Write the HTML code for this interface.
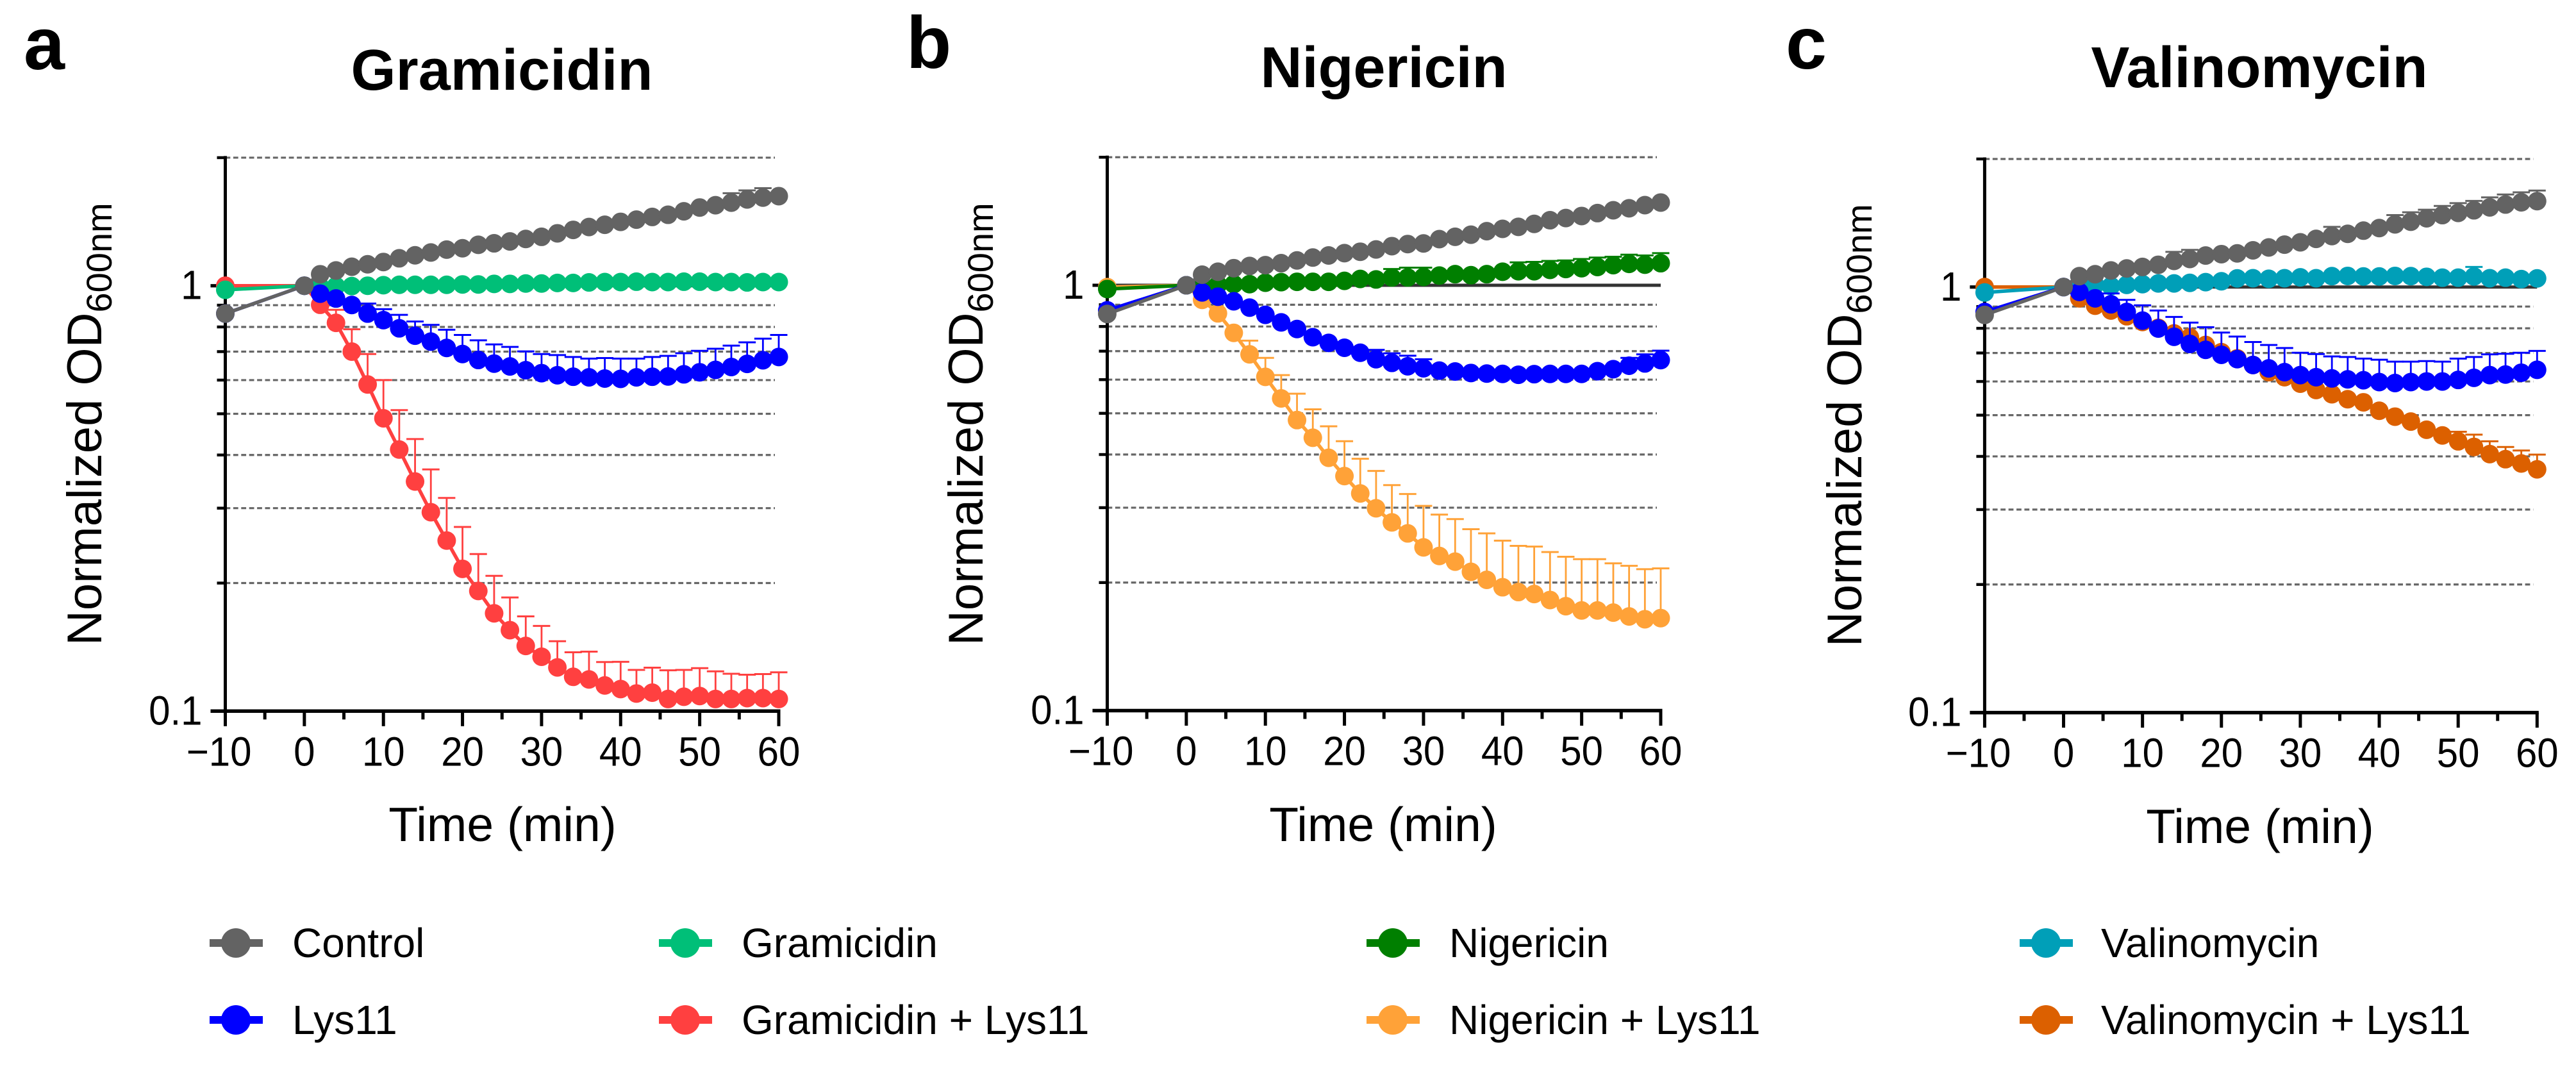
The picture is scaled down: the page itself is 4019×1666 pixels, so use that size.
<!DOCTYPE html>
<html lang="en">
<head>
<meta charset="utf-8">
<title>Normalized OD600nm time courses</title>
<style>
html,body{margin:0;padding:0;background:#fff}
svg{display:block}
text{font-family:"Liberation Sans",Arial,sans-serif;fill:#000}
</style>
</head>
<body>
<svg id="figure" xmlns="http://www.w3.org/2000/svg" width="4019" height="1666" viewBox="0 0 4019 1666">
  <rect x="0" y="0" width="4019" height="1666" fill="#fff"/>

  <g id="panel-a">
    <text x="37" y="108" font-size="115" font-weight="700">a</text>
    <text x="783" y="140" font-size="90" font-weight="700" text-anchor="middle" textLength="471">Gramicidin</text>
    <text transform="translate(158,1007) rotate(-90)" font-size="76">Normalized OD<tspan font-size="56" dy="16">600nm</tspan></text>
    <text x="784" y="1312" font-size="75" text-anchor="middle">Time (min)</text>
  </g>

  <g id="panel-b">
    <text x="1414" y="106" font-size="115" font-weight="700">b</text>
    <text x="2159" y="136" font-size="90" font-weight="700" text-anchor="middle">Nigericin</text>
    <text transform="translate(1533,1007) rotate(-90)" font-size="76">Normalized OD<tspan font-size="56" dy="16">600nm</tspan></text>
    <text x="2158" y="1312" font-size="75" text-anchor="middle">Time (min)</text>
  </g>

  <g id="panel-c">
    <text x="2786" y="107" font-size="115" font-weight="700">c</text>
    <text x="3525" y="136" font-size="90" font-weight="700" text-anchor="middle">Valinomycin</text>
    <text transform="translate(2904,1009) rotate(-90)" font-size="76">Normalized OD<tspan font-size="56" dy="16">600nm</tspan></text>
    <text x="3526" y="1315" font-size="75" text-anchor="middle">Time (min)</text>
  </g>

  <g id="legend" font-size="64">
    <g>
      <rect x="327" y="1465" width="83" height="12" fill="#636363"/>
      <circle cx="368" cy="1471" r="23" fill="#636363"/>
      <text x="456" y="1493">Control</text>
    </g>
    <g>
      <rect x="327" y="1585" width="83" height="12" fill="#0000ff"/>
      <circle cx="368" cy="1591" r="23" fill="#0000ff"/>
      <text x="456" y="1613">Lys11</text>
    </g>
    <g>
      <rect x="1028" y="1465" width="83" height="12" fill="#00bf78"/>
      <circle cx="1069" cy="1471" r="23" fill="#00bf78"/>
      <text x="1157" y="1493">Gramicidin</text>
    </g>
    <g>
      <rect x="1028" y="1585" width="83" height="12" fill="#ff4040"/>
      <circle cx="1069" cy="1591" r="23" fill="#ff4040"/>
      <text x="1157" y="1613">Gramicidin + Lys11</text>
    </g>
    <g>
      <rect x="2132" y="1465" width="83" height="12" fill="#007f00"/>
      <circle cx="2173" cy="1471" r="23" fill="#007f00"/>
      <text x="2261" y="1493">Nigericin</text>
    </g>
    <g>
      <rect x="2132" y="1585" width="83" height="12" fill="#ffa238"/>
      <circle cx="2173" cy="1591" r="23" fill="#ffa238"/>
      <text x="2261" y="1613">Nigericin + Lys11</text>
    </g>
    <g>
      <rect x="3151" y="1465" width="83" height="12" fill="#009fb8"/>
      <circle cx="3192" cy="1471" r="23" fill="#009fb8"/>
      <text x="3278" y="1493">Valinomycin</text>
    </g>
    <g>
      <rect x="3151" y="1585" width="83" height="12" fill="#dc6000"/>
      <circle cx="3192" cy="1591" r="23" fill="#dc6000"/>
      <text x="3278" y="1613">Valinomycin + Lys11</text>
    </g>
  </g>
</svg>

<script>
// ---------- axes ----------
const timeMinutes = [-10,0,2,4,6,8,10,12,14,16,18,20,22,24,26,28,30,32,34,36,38,40,42,44,46,48,50,52,54,56,58,60];
const xMajorTicks = [-10,0,10,20,30,40,50,60];
const xTickLabels = ["\u221210","0","10","20","30","40","50","60"];
const xMinorTicks = [-5,5,15,25,35,45,55];
const yMajorTicks = [1,0.1];
const yTickLabels = ["1","0.1"];
const yMinorTicks = [2,0.9,0.8,0.7,0.6,0.5,0.4,0.3,0.2];
const gridValues = [2,0.9,0.8,0.7,0.6,0.5,0.4,0.3,0.2];

// ---------- panel a: gramicidin ----------
const aControl = [0.86,1,1.064,1.086,1.108,1.123,1.137,1.16,1.179,1.197,1.216,1.225,1.248,1.258,1.271,1.288,1.303,1.328,1.353,1.374,1.391,1.413,1.43,1.451,1.468,1.496,1.527,1.546,1.568,1.595,1.611,1.624];
const aControlUpper = [null,null,null,null,null,null,null,null,null,null,null,null,null,null,null,null,null,null,null,null,null,null,null,null,null,null,null,null,1.65,1.675,1.696,null];
const aDrug = [0.978,1,0.995,0.998,0.998,1,1.003,1.005,1.005,1.005,1.005,1.007,1.007,1.01,1.01,1.012,1.012,1.015,1.015,1.018,1.02,1.02,1.022,1.02,1.02,1.022,1.022,1.02,1.02,1.018,1.02,1.02];
const aDrugUpper = [];
const aLys = [0.86,1,0.958,0.933,0.901,0.86,0.83,0.794,0.763,0.739,0.714,0.691,0.669,0.656,0.646,0.633,0.623,0.616,0.611,0.609,0.605,0.604,0.609,0.611,0.612,0.619,0.626,0.634,0.644,0.655,0.668,0.68];
const aLysUpper = [null,null,null,null,null,0.908,0.881,0.854,0.824,0.809,0.788,0.766,0.744,0.728,0.718,0.701,0.691,0.687,0.68,0.674,0.676,0.674,0.674,0.68,0.684,0.694,0.703,0.711,0.723,0.736,0.751,0.766];
const aCombo = [1,1,0.902,0.818,0.7,0.586,0.488,0.412,0.3465,0.2935,0.2517,0.216,0.1916,0.1698,0.155,0.1423,0.1342,0.1267,0.1204,0.1187,0.1149,0.1127,0.11,0.1105,0.1068,0.1081,0.1085,0.1068,0.1068,0.1073,0.1073,0.1068];
const aComboUpper = [null,null,null,0.878,0.79,0.691,0.6,0.51,0.436,0.37,0.317,0.271,0.234,0.208,0.185,0.167,0.1586,0.146,0.1375,0.138,0.1304,0.1306,0.125,0.1265,0.1247,0.125,0.1262,0.124,0.1224,0.1218,0.1222,0.1234];

// ---------- panel b: nigericin ----------
const bControl = [0.856,1,1.059,1.076,1.097,1.11,1.115,1.127,1.144,1.162,1.175,1.19,1.199,1.214,1.236,1.25,1.254,1.284,1.3,1.315,1.34,1.357,1.372,1.394,1.422,1.439,1.455,1.478,1.501,1.517,1.543,1.565];
const bControlUpper = [];
const bDrug = [0.98,1,1,1.003,1.006,1.006,1.014,1.017,1.019,1.019,1.019,1.024,1.035,1.032,1.043,1.043,1.046,1.054,1.062,1.056,1.062,1.076,1.079,1.079,1.087,1.092,1.097,1.104,1.115,1.123,1.118,1.127];
const bDrugUpper = [null,null,null,null,null,null,null,null,null,null,null,null,null,null,1.092,1.1,1.1,null,null,null,null,null,1.132,1.135,1.141,1.144,1.153,1.162,1.167,1.18,1.175,1.19];
const bLys = [0.873,1,0.962,0.94,0.917,0.886,0.852,0.818,0.789,0.755,0.732,0.713,0.694,0.67,0.657,0.645,0.638,0.63,0.627,0.622,0.62,0.619,0.616,0.618,0.619,0.619,0.619,0.628,0.635,0.647,0.655,0.667];
const bLysUpper = [null,null,null,null,null,null,null,null,null,null,null,null,null,0.705,0.692,0.683,0.67,null,null,null,null,null,null,null,null,null,null,null,null,0.675,0.688,0.702];
const bCombo = [0.99,1,0.924,0.859,0.773,0.688,0.609,0.542,0.482,0.438,0.393,0.356,0.324,0.299,0.277,0.261,0.242,0.231,0.224,0.212,0.203,0.195,0.19,0.188,0.182,0.176,0.172,0.172,0.17,0.1665,0.164,0.165];
const bComboUpper = [null,null,null,null,null,0.741,0.675,0.615,0.556,0.511,0.466,0.43,0.391,0.366,0.339,0.323,0.303,0.289,0.282,0.267,0.261,0.251,0.244,0.243,0.236,0.23,0.227,0.227,0.222,0.219,0.215,0.216];

// ---------- panel c: valinomycin ----------
const cControl = [0.86,1,1.061,1.072,1.094,1.106,1.115,1.128,1.152,1.164,1.186,1.195,1.2,1.22,1.239,1.258,1.274,1.298,1.318,1.334,1.357,1.376,1.404,1.424,1.451,1.476,1.494,1.515,1.539,1.563,1.582,1.592];
const cControlUpper = [null,null,null,null,null,null,null,null,1.21,1.223,null,null,null,null,null,null,null,null,1.385,null,null,null,1.476,1.499,1.52,1.551,1.575,1.594,1.625,1.65,1.67,1.686];
const cDrug = [0.971,1,1.005,1.012,1.005,1.012,1.016,1.02,1.02,1.023,1.027,1.032,1.048,1.049,1.046,1.049,1.054,1.049,1.061,1.062,1.059,1.059,1.062,1.061,1.057,1.052,1.052,1.059,1.049,1.052,1.044,1.048];
const cDrugUpper = [null,null,null,null,null,null,null,null,null,null,null,null,null,null,null,null,null,null,null,null,null,null,null,null,null,null,null,1.115,null,null,null,null];
const cLys = [0.874,1,0.974,0.941,0.911,0.874,0.834,0.799,0.764,0.735,0.712,0.693,0.677,0.656,0.644,0.631,0.621,0.614,0.61,0.607,0.604,0.598,0.595,0.598,0.6,0.6,0.605,0.612,0.621,0.623,0.629,0.639];
const cLysUpper = [null,null,null,null,0.966,0.933,0.906,0.881,0.851,0.825,0.805,0.782,0.765,0.743,0.731,0.719,0.701,0.696,0.687,0.685,0.679,0.675,0.668,0.668,0.67,0.668,0.679,0.685,0.695,0.697,0.701,0.708];
const cCombo = [1,1,0.941,0.904,0.881,0.854,0.828,0.802,0.778,0.762,0.731,0.703,0.68,0.656,0.631,0.614,0.593,0.573,0.56,0.545,0.536,0.512,0.496,0.483,0.462,0.448,0.434,0.421,0.405,0.394,0.385,0.373];
const cComboUpper = [null,null,null,null,null,null,null,null,null,null,null,null,null,null,null,null,null,null,null,null,null,null,null,null,null,null,0.457,0.45,0.434,0.421,0.413,0.404];

// ---------- panel layout ----------
const panels = [
  {id:'panel-a', key:'gramicidin', xLeft:351.5, xRight:1215, yOne:445.7, yTenth:1109.3, series:[
    {key:'gramicidin-lys11', color:'#ff4040', values:aCombo, upper:aComboUpper},
    {key:'gramicidin', color:'#00bf78', values:aDrug, upper:aDrugUpper},
    {key:'lys11', color:'#0000ff', values:aLys, upper:aLysUpper},
    {key:'control', color:'#636363', values:aControl, upper:aControlUpper}
  ]},
  {id:'panel-b', key:'nigericin', xLeft:1727.5, xRight:2591, yOne:445, yTenth:1108.5, series:[
    {key:'nigericin-lys11', color:'#ffa238', values:bCombo, upper:bComboUpper},
    {key:'nigericin', color:'#007f00', values:bDrug, upper:bDrugUpper},
    {key:'lys11', color:'#0000ff', values:bLys, upper:bLysUpper},
    {key:'control', color:'#636363', values:bControl, upper:bControlUpper}
  ]},
  {id:'panel-c', key:'valinomycin', xLeft:3096.4, xRight:3958.3, yOne:447.8, yTenth:1111.6, series:[
    {key:'valinomycin-lys11', color:'#dc6000', values:cCombo, upper:cComboUpper},
    {key:'valinomycin', color:'#009fb8', values:cDrug, upper:cDrugUpper},
    {key:'lys11', color:'#0000ff', values:cLys, upper:cLysUpper},
    {key:'control', color:'#636363', values:cControl, upper:cControlUpper}
  ]}
];

const SVGNS = 'http://www.w3.org/2000/svg';
function make(tag, parent, props) {
  const el = document.createElementNS(SVGNS, tag);
  for (const k in props) el.setAttribute(k, props[k]);
  parent.appendChild(el);
  return el;
}

panels.forEach(function (p) {
  const host = document.getElementById(p.id);
  const xScale = function (t) { return p.xLeft + (t + 10) * (p.xRight - p.xLeft) / 70; };
  const yScale = function (v) { return p.yOne - Math.log10(v) * (p.yTenth - p.yOne); };

  const grid = make('g', host, {});
  
  
  gridValues.forEach(function (v) {
    const line = make('line', grid, {x1:p.xLeft, x2:p.xRight - 6, y1:yScale(v), y2:yScale(v), stroke:'#666', 'stroke-width':3.2, 'stroke-dasharray':'7.8 4.6'});
    
    
  });

  const baseline = make('line', host, {x1:p.xLeft - 23, x2:p.xRight, y1:yScale(1), y2:yScale(1), stroke:'#333', 'stroke-width':5});
  
  

  const axes = make('g', host, {});
  
  

  const yAxisLine = make('line', axes, {x1:p.xLeft, x2:p.xLeft, y1:yScale(2) - 2.5, y2:p.yTenth, stroke:'#000', 'stroke-width':5});
  
  

  const xAxisLine = make('line', axes, {x1:p.xLeft - 23, x2:p.xRight + 2.5, y1:p.yTenth, y2:p.yTenth, stroke:'#000', 'stroke-width':5.5});
  
  

  yMajorTicks.forEach(function (v, i) {
    const tick = make('line', axes, {x1:p.xLeft - 23, x2:p.xLeft, y1:yScale(v), y2:yScale(v), stroke:'#000', 'stroke-width':5});
    
    
    const label = make('text', axes, {transform:'translate(' + (p.xLeft - 36) + ',' + (yScale(v) + 21) + ') scale(1,1.07)', 'font-size':60, 'text-anchor':'end'});
    label.textContent = yTickLabels[i];
    
    
  });

  yMinorTicks.forEach(function (v) {
    const tick = make('line', axes, {x1:p.xLeft - 13, x2:p.xLeft, y1:yScale(v), y2:yScale(v), stroke:'#000', 'stroke-width':4.5});
    
    
  });

  xMajorTicks.forEach(function (t, i) {
    const tick = make('line', axes, {x1:xScale(t), x2:xScale(t), y1:p.yTenth, y2:p.yTenth + 23.5, stroke:'#000', 'stroke-width':5});
    
    
    const negative = t < 0;
    const labelX = negative ? xScale(t) + 41 : xScale(t);
    const label = make('text', axes, {transform:'translate(' + labelX + ',' + (p.yTenth + 85) + ') scale(1,1.07)', 'font-size':60, 'text-anchor':negative ? 'end' : 'middle'});
    label.textContent = xTickLabels[i];
    
    
  });

  xMinorTicks.forEach(function (t) {
    const tick = make('line', axes, {x1:xScale(t), x2:xScale(t), y1:p.yTenth, y2:p.yTenth + 13, stroke:'#000', 'stroke-width':5});
    
    
  });

  p.series.forEach(function (s) {
    const group = make('g', host, {});
    
    

    s.upper.forEach(function (u, i) {
      if (u === null) return;
      const x = xScale(timeMinutes[i]);
      const stem = make('line', group, {x1:x, x2:x, y1:yScale(s.values[i]), y2:yScale(u), stroke:s.color, 'stroke-width':2.8});
      
      
      const cap = make('line', group, {x1:x - 13.5, x2:x + 13.5, y1:yScale(u), y2:yScale(u), stroke:s.color, 'stroke-width':3});
      
      
    });

    const pts = s.values.map(function (v, i) { return xScale(timeMinutes[i]) + ',' + yScale(v); }).join(' ');
    const path = make('polyline', group, {points:pts, fill:'none', stroke:s.color, 'stroke-width':5.5, 'stroke-linejoin':'round'});
    
    

    s.values.forEach(function (v, i) {
      const dot = make('circle', group, {cx:xScale(timeMinutes[i]), cy:yScale(v), r:14.5, fill:s.color});
      
      
    });
  });
});
</script>
</body>
</html>
